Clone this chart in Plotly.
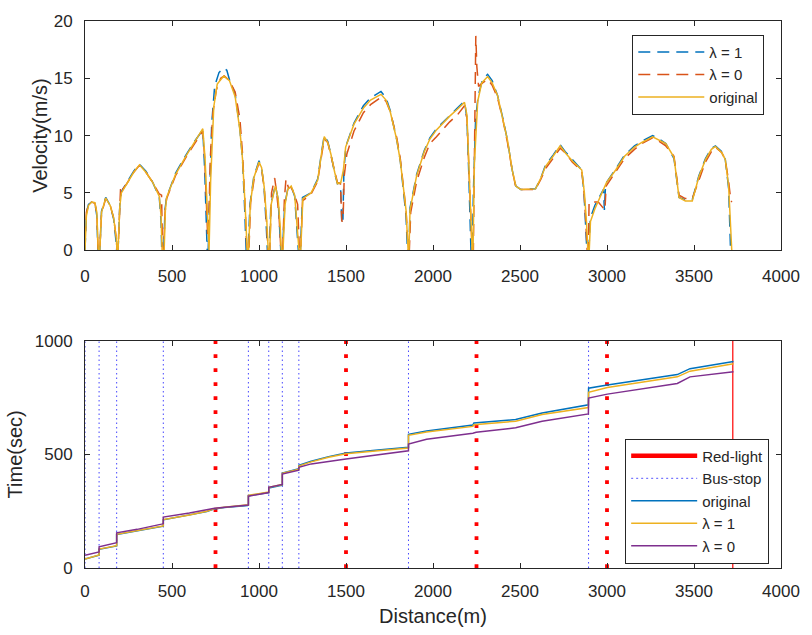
import plotly.graph_objects as go
from plotly.subplots import make_subplots

# ---------------- velocity profiles (distance m, velocity m/s) ----------------
orig_d = [0, 8, 20, 38, 57, 68, 76, 85, 95, 119, 145, 165, 180, 184, 190, 200, 209, 240, 280, 313,
          350, 390, 427, 437, 443, 455, 462, 469, 520, 580, 630, 677, 690, 705, 713, 722, 740, 760,
          797, 830, 863, 890, 905, 920, 932, 940, 950, 970, 1000, 1015, 1030, 1045, 1053, 1062, 1070,
          1094, 1110, 1122, 1128, 1138, 1150, 1165, 1185, 1205, 1222, 1230, 1240, 1252, 1299, 1337,
          1360, 1375, 1395, 1413, 1435, 1451, 1470, 1485, 1498, 1546, 1600, 1641, 1701, 1730, 1754,
          1775, 1792, 1812, 1830, 1845, 1857, 1862, 1868, 1906, 1950, 1982, 2020, 2077, 2096, 2140,
          2181, 2195, 2205, 2215, 2225, 2230, 2238, 2257, 2280, 2314, 2340, 2371, 2400, 2428, 2455,
          2476, 2504, 2589, 2620, 2646, 2690, 2731, 2760, 2800, 2855, 2870, 2882, 2890, 2898, 2905,
          2930, 2960, 2997, 3050, 3101, 3158, 3200, 3262, 3300, 3338, 3385, 3414, 3450, 3490, 3528,
          3566, 3600, 3623, 3660, 3680, 3699, 3710, 3717]
orig_v = [0, 3.0, 3.9, 4.2, 4.15, 3.3, 0, 0, 3.3, 4.55, 3.9, 2.8, 1.0, 0, 0, 3.8, 5.0, 5.8, 6.8, 7.45,
          6.8, 5.9, 4.7, 3.0, 0, 0, 3.5, 4.6, 6.6, 8.2, 9.4, 10.6, 8.0, 2.5, 0, 6.0, 12.5, 14.5,
          15.2, 14.8, 13.4, 10.5, 8.0, 4.0, 0, 0, 4.0, 6.3, 7.7, 7.2, 5.5, 2.5, 0, 0, 4.0,
          5.6, 4.5, 2.0, 0, 0, 4.0, 5.3, 5.6, 4.8, 2.0, 0, 0, 4.5, 5.0, 6.1,
          8.5, 9.9, 9.4, 8.4, 6.8, 5.8, 5.9, 7.0, 9.0, 11.0, 12.4, 13.1, 13.6, 13.1, 12.1,
          10.8, 9.6, 7.8, 5.6, 3.5, 0, 0, 3.5, 6.5, 8.6, 9.7, 10.5, 11.4, 11.7, 12.3,
          12.9, 11.8, 8.0, 3.5, 0, 0, 7.6, 13.0, 14.6, 15.15, 14.6, 13.5, 11.6, 9.6, 7.0,
          5.6, 5.3, 5.35, 6.3, 7.3, 8.2, 9.1, 8.5, 7.8, 7.0, 5.0, 2.5, 0, 0, 2.5,
          3.6, 4.7, 5.9, 7.0, 8.2, 9.0, 9.4, 9.9, 9.6, 9.3, 8.1, 4.6, 4.3, 4.3, 6.4,
          7.9, 8.8, 9.05, 8.5, 7.9, 5.6, 2.5, 0]

lam1_d = [0, 8, 20, 38, 57, 68, 74, 85, 95, 119, 145, 165, 178, 182, 190, 200, 209, 240, 280, 313,
          350, 390, 427, 437, 441, 452, 460, 469, 520, 580, 630, 677, 688, 698, 702, 708, 714, 728,
          745, 770, 797, 815, 830, 863, 890, 905, 918, 926, 938, 948, 970, 1000, 1015, 1030, 1042,
          1048, 1060, 1068, 1094, 1110, 1120, 1125, 1135, 1148, 1165, 1185, 1205, 1220, 1226, 1238,
          1250, 1299, 1337, 1360, 1375, 1395, 1413, 1435, 1451, 1468, 1476, 1482, 1488, 1500, 1546,
          1600, 1641, 1701, 1730, 1754, 1775, 1792, 1812, 1830, 1845, 1853, 1862, 1868, 1906, 1950,
          1982, 2020, 2077, 2096, 2140, 2181, 2195, 2205, 2212, 2218, 2226, 2232, 2245, 2260, 2285,
          2314, 2340, 2371, 2400, 2428, 2455, 2476, 2504, 2589, 2620, 2646, 2690, 2731, 2760, 2800,
          2855, 2868, 2878, 2884, 2896, 2904, 2930, 2960, 2980, 2985, 2992, 3050, 3101, 3158, 3200,
          3262, 3300, 3338, 3385, 3414, 3450, 3490, 3528, 3566, 3600, 3623, 3660, 3680, 3699, 3706,
          3710]
lam1_v = [0, 3.2, 4.0, 4.2, 4.1, 3.0, 0, 0, 3.4, 4.6, 3.9, 2.7, 0.8, 0, 0, 3.9, 5.1, 5.9, 6.9, 7.5,
          6.9, 5.9, 4.6, 2.5, 0, 0, 3.6, 4.6, 6.7, 8.3, 9.5, 10.5, 7.0, 2.0, 0, 0, 4.0, 11.0,
          14.3, 15.5, 15.9, 15.7, 14.9, 13.6, 10.6, 8.0, 3.5, 0, 0, 4.0, 6.4, 7.8, 7.2, 5.3, 2.0,
          0, 0, 4.0, 5.7, 4.4, 1.5, 0, 0, 4.0, 5.3, 5.6, 4.7, 1.5, 0, 0,
          4.6, 5.0, 6.2, 8.6, 10.0, 9.5, 8.4, 6.7, 5.8, 5.9, 2.3, 2.4, 7.0, 9.1, 11.1,
          12.6, 13.3, 13.85, 13.3, 12.2, 10.9, 9.6, 7.8, 5.4, 3.0, 0, 0, 3.7, 6.6, 8.7,
          9.8, 10.6, 11.5, 11.8, 12.4, 13.0, 11.5, 7.0, 2.0, 0, 0, 5.0, 11.5, 13.5, 14.9,
          15.35, 14.8, 13.5, 11.6, 9.6, 7.0, 5.6, 5.3, 5.35, 6.3, 7.4, 8.3, 9.2, 8.6, 7.9,
          7.0, 5.0, 2.0, 0, 0, 2.8, 3.9, 4.8, 5.3, 3.5, 5.8, 7.1, 8.3, 9.1, 9.5,
          10.0, 9.7, 9.3, 8.0, 4.6, 4.4, 4.4, 6.5, 8.0, 8.9, 9.1, 8.6, 7.9, 5.4, 2.0,
          0]

lam0_d = [0, 8, 20, 38, 57, 68, 75, 85, 95, 119, 145, 165, 180, 184, 190, 198, 205, 215, 240, 280,
          313, 350, 390, 427, 440, 445, 452, 460, 469, 520, 580, 630, 677, 688, 698, 705, 712, 720,
          735, 755, 780, 800, 830, 863, 890, 905, 920, 930, 942, 952, 975, 1000, 1015, 1030, 1045,
          1052, 1062, 1072, 1090, 1100, 1115, 1126, 1136, 1146, 1155, 1170, 1185, 1205, 1222, 1228,
          1232, 1240, 1250, 1299, 1337, 1360, 1375, 1395, 1413, 1435, 1451, 1468, 1476, 1483, 1490,
          1505, 1546, 1600, 1641, 1701, 1730, 1754, 1775, 1792, 1812, 1830, 1845, 1858, 1864, 1872,
          1906, 1950, 1982, 2020, 2077, 2096, 2140, 2181, 2195, 2205, 2215, 2225, 2232, 2240, 2246,
          2252, 2262, 2285, 2314, 2340, 2371, 2400, 2428, 2455, 2476, 2504, 2589, 2620, 2646, 2690,
          2731, 2760, 2800, 2855, 2868, 2878, 2886, 2893, 2897, 2950, 2980, 2988, 2995, 3050, 3101,
          3158, 3200, 3262, 3300, 3338, 3385, 3414, 3450, 3490, 3528, 3566, 3600, 3623, 3660, 3680,
          3699, 3712, 3718]
lam0_v = [1.0, 3.3, 4.0, 4.2, 4.1, 3.2, 0, 0, 3.2, 4.5, 3.9, 2.8, 1.0, 0, 0, 3.0, 5.6, 5.3, 5.8, 6.8,
          7.4, 6.8, 5.9, 4.9, 4.8, 0.5, 0, 3.3, 4.5, 6.5, 8.1, 9.3, 10.4, 8.0, 3.0, 1.2, 3.0, 8.0,
          12.0, 14.0, 15.0, 15.2, 14.8, 13.8, 11.5, 8.5, 4.0, 0, 0, 4.2, 6.5, 7.6, 7.1, 5.4, 2.0,
          0, 0, 5.0, 6.3, 5.2, 3.0, 0, 0, 4.5, 6.2, 5.4, 5.5, 4.8, 4.0, 1.0,
          0, 0, 4.3, 4.9, 6.0, 8.3, 9.7, 9.4, 8.3, 6.9, 5.9, 5.8, 2.5, 2.6, 6.5,
          8.4, 10.4, 12.0, 12.7, 13.35, 13.0, 12.1, 10.9, 9.8, 8.0, 5.8, 3.5, 0, 0, 3.3,
          6.0, 8.1, 9.3, 9.9, 10.9, 11.2, 11.8, 12.6, 11.5, 7.5, 3.5, 0, 0, 10.0, 18.7,
          16.0, 14.3, 14.6, 14.9, 14.4, 13.3, 11.5, 9.4, 7.0, 5.5, 5.3, 5.3, 6.2, 7.1, 8.0,
          8.9, 8.5, 7.7, 6.9, 5.0, 2.5, 0, 0, 4.2, 4.2, 3.7, 3.5, 5.6, 6.8, 8.0,
          8.8, 9.3, 9.8, 9.5, 9.1, 8.2, 4.8, 4.5, 4.5, 6.2, 7.7, 8.6, 9.0, 8.5, 7.9,
          6.0, 4.3, 4.2]

# ---------------- travel time (distance m, time s) ----------------
t_orig_d = [0, 75, 81, 81, 175, 182, 182, 300, 440, 450, 450, 600, 700, 745, 800, 935, 939, 939,
            1050, 1056, 1056, 1130, 1134, 1134, 1225, 1229, 1229, 1300, 1400, 1500, 1700, 1855, 1859,
            1859, 1963, 2229, 2235, 2475, 2627, 2893, 2894, 3002, 3404, 3477, 3727]
t_orig = [39, 52, 56, 82, 95, 97, 147, 162, 182, 184, 212, 232, 248, 260, 266, 275, 277, 318,
          330, 332, 352, 363, 365, 418, 435, 437, 452, 470, 490, 506, 520, 530, 531,
          588, 603, 629, 638, 653, 682, 718, 791, 805, 851, 877, 909]

t_lam1_d = [0, 75, 81, 81, 175, 182, 182, 300, 440, 450, 450, 600, 700, 745, 800, 935, 939, 939,
            1050, 1056, 1056, 1130, 1134, 1134, 1225, 1229, 1229, 1300, 1400, 1500, 1700, 1855, 1859,
            1859, 1963, 2229, 2235, 2475, 2627, 2893, 2894, 3002, 3404, 3477, 3727]
t_lam1 = [40, 53, 57, 83, 96, 98, 148, 163, 183, 185, 213, 233, 250, 262, 267, 276, 278, 320,
          332, 334, 355, 365, 367, 417, 433, 435, 449, 467, 487, 503, 517, 527, 528,
          584, 598, 623, 630, 646, 675, 706, 773, 794, 841, 866, 899]

t_lam0_d = [0, 75, 81, 81, 175, 182, 182, 300, 440, 450, 450, 600, 745, 935, 939, 939,
            1050, 1056, 1056, 1130, 1134, 1134, 1225, 1229, 1229, 1300, 1500, 1700, 1855, 1859,
            1859, 1963, 2229, 2248, 2475, 2627, 2893, 2894, 3002, 3404, 3477, 3727]
t_lam0 = [56, 68, 71, 93, 109, 111, 155, 170, 193, 195, 224, 242, 263, 276, 277, 316,
          330, 332, 355, 366, 368, 413, 428, 430, 443, 458, 480, 500, 515, 516,
          545, 566, 593, 597, 617, 646, 678, 748, 765, 812, 841, 863]

red_lights = [750, 1500, 2250, 3000]
bus_stops = [0, 81, 182, 450, 939, 1056, 1134, 1229, 1859, 2894]
route_end = 3723

x_ticks = [0, 500, 1000, 1500, 2000, 2500, 3000, 3500, 4000]
v_ticks = [0, 5, 10, 15, 20]
t_ticks = [0, 500, 1000]

C_BLUE = "#0072BD"
C_RED = "#D95319"
C_YEL = "#EDB120"
C_PUR = "#7E2F8E"
AX = "#262626"
FONT = "Liberation Sans, Arial, sans-serif"

fig = make_subplots(rows=2, cols=1, vertical_spacing=0.0)

# top panel: velocity
fig.add_trace(go.Scatter(x=lam1_d, y=lam1_v, mode="lines", name="λ = 1",
                         line=dict(color=C_BLUE, width=1.5, dash="12px,7px"),
                         legend="legend"), row=1, col=1)
fig.add_trace(go.Scatter(x=lam0_d, y=lam0_v, mode="lines", name="λ = 0",
                         line=dict(color=C_RED, width=1.5, dash="12px,7px"),
                         legend="legend"), row=1, col=1)
fig.add_trace(go.Scatter(x=orig_d, y=orig_v, mode="lines", name="original",
                         line=dict(color=C_YEL, width=1.5),
                         legend="legend"), row=1, col=1)

# bottom panel: signal and stop markers
for d in red_lights:
    fig.add_trace(go.Scatter(x=[d, d], y=[t_ticks[0], t_ticks[-1]], mode="lines",
                             line=dict(color="red", width=3.8, dash="3.8px,10.2px"),
                             showlegend=False, hoverinfo="skip"), row=2, col=1)
for d in bus_stops:
    fig.add_trace(go.Scatter(x=[d, d], y=[t_ticks[0], t_ticks[-1]], mode="lines",
                             line=dict(color="rgb(70,70,255)", width=1, dash="1.5px,3px"),
                             showlegend=False, hoverinfo="skip"), row=2, col=1)
fig.add_trace(go.Scatter(x=[route_end, route_end], y=[t_ticks[0], t_ticks[-1]], mode="lines",
                         line=dict(color="red", width=1.2), showlegend=False,
                         hoverinfo="skip"), row=2, col=1)

# legend entries for the marker lines
fig.add_trace(go.Scatter(x=[None], y=[None], mode="lines", name="Red-light",
                         line=dict(color="red", width=4.5), legend="legend2"), row=2, col=1)
fig.add_trace(go.Scatter(x=[None], y=[None], mode="lines", name="Bus-stop",
                         line=dict(color="rgb(120,120,255)", width=1.2, dash="2px,3px"),
                         legend="legend2"), row=2, col=1)

fig.add_trace(go.Scatter(x=t_orig_d, y=t_orig, mode="lines", name="original",
                         line=dict(color=C_BLUE, width=1.5), legend="legend2"), row=2, col=1)
fig.add_trace(go.Scatter(x=t_lam1_d, y=t_lam1, mode="lines", name="λ = 1",
                         line=dict(color=C_YEL, width=1.5), legend="legend2"), row=2, col=1)
fig.add_trace(go.Scatter(x=t_lam0_d, y=t_lam0, mode="lines", name="λ = 0",
                         line=dict(color=C_PUR, width=1.5), legend="legend2"), row=2, col=1)

axis_common = dict(showline=True, linecolor=AX, linewidth=1, mirror="ticks",
                   ticks="inside", ticklen=5, tickcolor=AX, tickwidth=1,
                   showgrid=False, zeroline=False,
                   tickfont=dict(family=FONT, size=17, color=AX))

fig.update_xaxes(range=[x_ticks[0], x_ticks[-1]], tickvals=x_ticks, **axis_common)
fig.update_xaxes(domain=[0, 1], ticklabelstandoff=10, row=1, col=1)
fig.update_xaxes(ticklabelstandoff=8, row=2, col=1,
                 title=dict(text="Distance(m)", font=dict(family=FONT, size=20, color=AX),
                            standoff=8))
fig.update_yaxes(range=[v_ticks[0], v_ticks[-1]], tickvals=v_ticks, row=1, col=1,
                 domain=[0.581, 1.0], ticklabelstandoff=8,
                 title=dict(text="Velocity(m/s)", font=dict(family=FONT, size=20, color=AX),
                            standoff=0), **axis_common)
fig.update_yaxes(range=[t_ticks[0], t_ticks[-1]], tickvals=t_ticks, row=2, col=1,
                 domain=[0.0, 0.4155], ticklabelstandoff=8,
                 title=dict(text="Time(sec)", font=dict(family=FONT, size=20, color=AX),
                            standoff=6), **axis_common)

fig.update_layout(
    width=812, height=635,
    margin=dict(l=85, r=24, t=15, b=64),
    paper_bgcolor="white", plot_bgcolor="white",
    font=dict(family=FONT, color=AX),
    legend=dict(x=0.976, y=0.975, xanchor="right", yanchor="top",
                bordercolor=AX, borderwidth=1, bgcolor="white",
                font=dict(family=FONT, size=15, color=AX), itemwidth=66,
                tracegroupgap=0),
    legend2=dict(x=0.983, y=0.008, xanchor="right", yanchor="bottom",
                 bordercolor=AX, borderwidth=1, bgcolor="white",
                 font=dict(family=FONT, size=15, color=AX), itemwidth=66,
                 tracegroupgap=0),
)

fig.write_html("out.html")
